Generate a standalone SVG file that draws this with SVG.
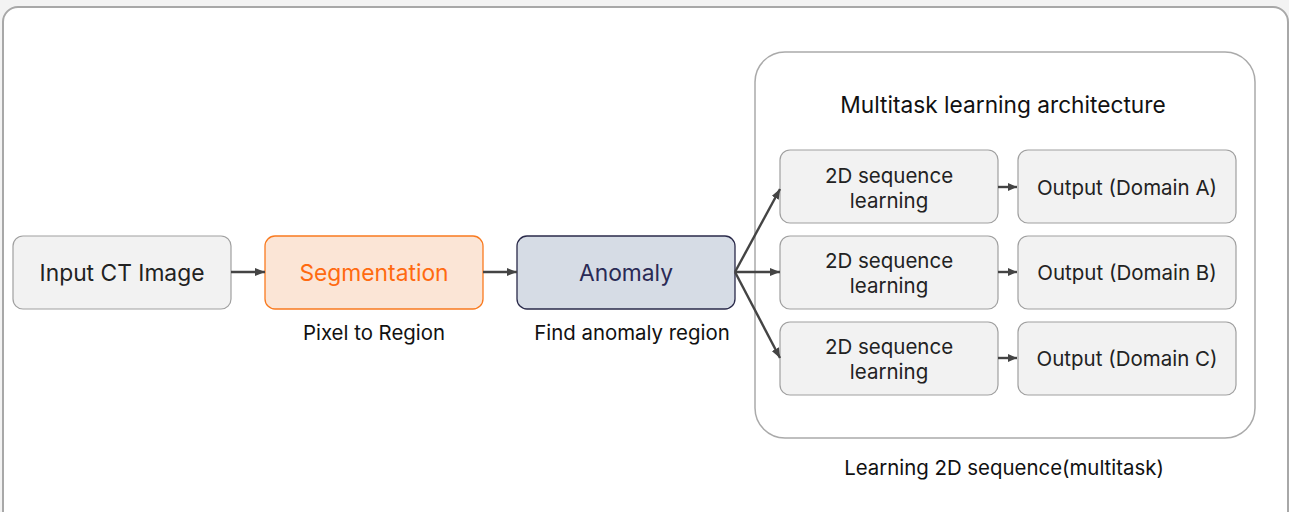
<svg xmlns="http://www.w3.org/2000/svg" width="1289" height="512" viewBox="0 0 1289 512">
<style>
text{font-family:Inter,"Noto Sans","Noto Sans CJK KR",sans-serif;text-anchor:middle;dominant-baseline:central}
.box{fill:#f2f2f2;stroke:#a0a0a0;stroke-width:1.2}
.big{font-size:22.8px;fill:#222}
.mid{font-size:20.5px;fill:#222}
.cap{font-size:20.4px;fill:#111}
.con{stroke:#444;stroke-width:2.4;fill:none;marker-end:url(#ah)}
.cons{stroke:#444;stroke-width:2.4;fill:none;marker-end:url(#ahs)}
</style>
<defs>
<marker id="ah" markerWidth="10" markerHeight="8" refX="10" refY="4" orient="auto" markerUnits="userSpaceOnUse"><path d="M0,0 L10,4 L0,8 Z" fill="#444"/></marker>
<marker id="ahs" markerWidth="9" markerHeight="8" refX="9" refY="4" orient="auto" markerUnits="userSpaceOnUse"><path d="M0,0 L9,4 L0,8 Z" fill="#444"/></marker>
</defs>
<rect x="0" y="0" width="1289" height="512" fill="#f3f3f3"/>
<rect id="frame" x="3" y="7" width="1285" height="530" rx="15" fill="#fff" stroke="#a8a8a8" stroke-width="2"/>
<g id="input"><rect class="box" x="13" y="236" width="218" height="73" rx="10"/><text class="big" x="122" y="272.5">Input CT Image</text></g>
<g id="segmentation"><rect x="265" y="236" width="218" height="73" rx="10" fill="#fbe5d6" stroke="#f97a1f" stroke-width="1.3"/><text class="big" x="374" y="272.5" style="fill:#ff6a10">Segmentation</text></g>
<text class="cap" x="374" y="332">Pixel to Region</text>
<g id="anomaly"><rect x="517" y="236" width="218" height="73" rx="10" fill="#d6dce5" stroke="#2a2a4a" stroke-width="1.3"/><text class="big" x="626" y="272.5" style="fill:#2a2a55">Anomaly</text></g>
<text class="cap" x="632" y="332">Find anomaly region</text>
<g id="container"><rect x="755" y="52" width="500" height="386" rx="30" fill="#fff" stroke="#aaa" stroke-width="1.5"/><text x="1003" y="104" style="font-size:22.7px;fill:#111">Multitask learning architecture</text></g>
<text class="cap" x="1004" y="467">Learning 2D sequence(multitask)</text>
<g id="seqA"><rect class="box" x="780" y="150" width="218" height="73" rx="10"/><text class="mid" x="889" y="175">2D sequence</text><text class="mid" x="889" y="200">learning</text></g>
<g id="seqB"><rect class="box" x="780" y="236" width="218" height="73" rx="10"/><text class="mid" x="889" y="260">2D sequence</text><text class="mid" x="889" y="285">learning</text></g>
<g id="seqC"><rect class="box" x="780" y="322" width="218" height="73" rx="10"/><text class="mid" x="889" y="346">2D sequence</text><text class="mid" x="889" y="371">learning</text></g>
<g id="outA"><rect class="box" x="1018" y="150" width="218" height="73" rx="10"/><text class="mid" x="1127" y="187">Output (Domain A)</text></g>
<g id="outB"><rect class="box" x="1018" y="236" width="218" height="73" rx="10"/><text class="mid" x="1127" y="272">Output (Domain B)</text></g>
<g id="outC"><rect class="box" x="1018" y="322" width="218" height="73" rx="10"/><text class="mid" x="1127" y="358">Output (Domain C)</text></g>
<g id="connectors">
<line class="con" x1="231" y1="272" x2="265" y2="272"/>
<line class="con" x1="483" y1="272" x2="517" y2="272"/>
<line class="con" x1="735" y1="272" x2="780" y2="189"/>
<line class="con" x1="735" y1="272" x2="780" y2="272"/>
<line class="con" x1="735" y1="272" x2="780" y2="358"/>
<line class="cons" x1="998" y1="187" x2="1017" y2="187"/>
<line class="cons" x1="998" y1="272" x2="1017" y2="272"/>
<line class="cons" x1="998" y1="358" x2="1017" y2="358"/>
</g>
</svg>
